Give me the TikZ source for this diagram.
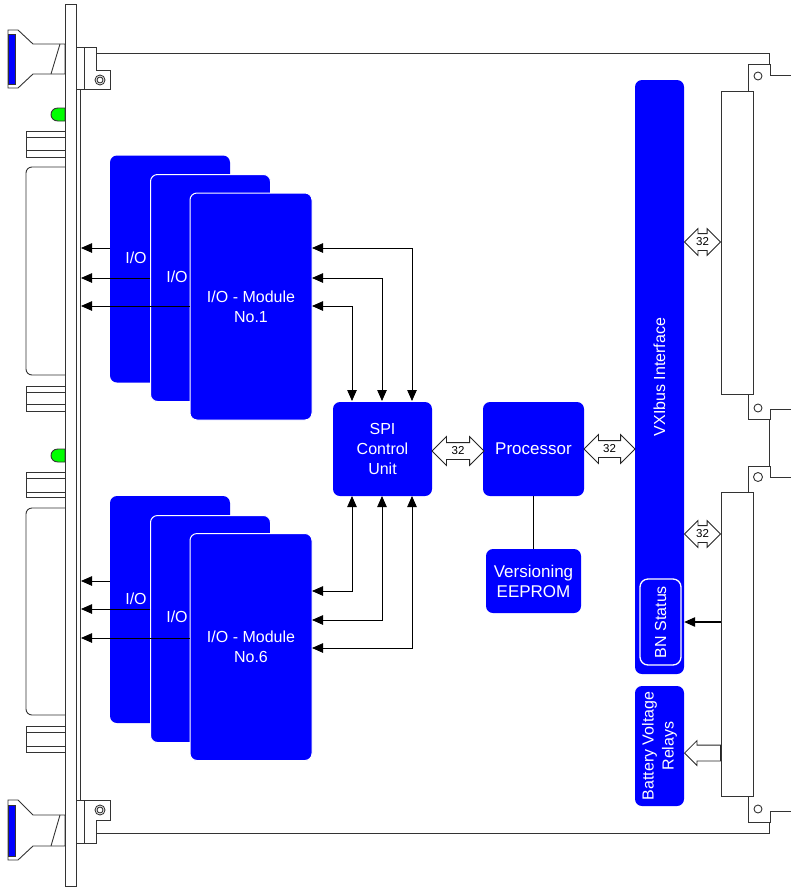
\documentclass[tikz,border=0pt]{standalone}
\usepackage{fontspec}
\setmainfont{Liberation Sans}
\usetikzlibrary{shapes.arrows, arrows.meta}

\begin{document}
\begin{tikzpicture}[
	x=1pt, y=-1pt,
	>={Triangle[length=11pt,width=9.5pt]},
	box/.style={
		rectangle,
		fill=blue,
		rounded corners=7pt,
		inner sep=0pt,
		align=center,
		text=white,
		font=\fontsize{16}{20}\selectfont
	},
	module/.style={box, draw=white, line width=1pt, minimum width=122pt, minimum height=227pt},
	boxtext/.style={text=white, inner sep=0pt, font=\fontsize{16}{20}\selectfont},
	conbox/.style={rectangle, draw=black!80, fill=white, line width=0.9pt, minimum width=32pt, inner sep=0pt},
	busarrow/.style={
		double arrow,
		draw=black!85,
		fill=white,
		line width=0.8pt,
		inner sep=0pt,
		text height=11.5pt,
		text depth=4.5pt,
		font=\fontsize{11.5}{12}\selectfont
	},
	wire/.style={line width=0.8pt},
	arrow/.style={->, line width=0.8pt},
	biarrow/.style={<->, line width=0.8pt},
	frame/.style={draw=black!80, line width=0.9pt},
	led/.style={frame, fill=green}
	]
	
	\useasboundingbox (0,0) rectangle (791,887);
	
	\draw [frame] (96,53) -- (769,53) -- (769,64);
	\draw [frame] (96,833) -- (769,833) -- (769,822);
	\draw [frame] (769,419) -- (769,466);
	\draw [frame] (80,89) -- (80,800);
	
	\draw [frame] (748,91) -- (748,64) -- (770,64) -- (770,75) -- (791,75);
	\draw [frame] (748,394) -- (748,419) -- (770,419) -- (770,409) -- (791,409);
	\draw [frame] (748,492) -- (748,466) -- (770,466) -- (770,477) -- (791,477);
	\draw [frame] (748,796) -- (748,822) -- (770,822) -- (770,811) -- (791,811);
	\draw [frame] (758,76) circle (4pt);
	\draw [frame] (758,408) circle (4pt);
	\draw [frame] (758,477) circle (4.5pt);
	\draw [frame] (758,809) circle (4pt);
	
	\draw [frame] (8,30) -- (18,30) -- (33,44) -- (65,44) -- (65,74) -- (33,74) -- (18,88) -- (8,88) -- cycle;
	\draw [frame, fill=blue] (8,34) rectangle (15,84);
	\draw [frame] (60,44) -- (51,74);
	\draw [frame] (8,800) -- (18,800) -- (33,815) -- (65,815) -- (65,846) -- (33,846) -- (18,860) -- (8,860) -- cycle;
	\draw [frame, fill=blue] (8,805) rectangle (15,856);
	\draw [frame] (60,815) -- (51,846);
	
	\draw [led] (65,108) -- (58,108) .. controls (48.7,108) and (48.7,121) .. (58,121) -- (65,121) -- cycle;
	\draw [led] (65,449) -- (58,449) .. controls (48.7,449) and (48.7,462) .. (58,462) -- (65,462) -- cycle;
	
	\draw [frame] (65,131) -- (26,131) -- (26,157) -- (65,157);
	\draw [frame] (26,137) -- (65,137);
	\draw [frame] (26,150) -- (65,150);
	\draw [frame, rounded corners=6pt] (65,167) -- (26,167) -- (26,375) -- (65,375);
	\draw [frame] (65,386) -- (26,386) -- (26,411) -- (65,411);
	\draw [frame] (26,392) -- (65,392);
	\draw [frame] (26,404) -- (65,404);
	\draw [frame] (65,472) -- (26,472) -- (26,497) -- (65,497);
	\draw [frame] (26,478) -- (65,478);
	\draw [frame] (26,492) -- (65,492);
	\draw [frame, rounded corners=6pt] (65,508) -- (26,508) -- (26,715) -- (65,715);
	\draw [frame] (65,726) -- (26,726) -- (26,752) -- (65,752);
	\draw [frame] (26,732) -- (65,732);
	\draw [frame] (26,746) -- (65,746);
	
	\draw [frame, fill=white] (65,4) rectangle (76,886);
	\draw [frame] (76,47) rectangle (84,89);
	\draw [frame] (84,47) -- (96,47) -- (96,70) -- (110,70) -- (110,89) -- (84,89);
	\draw [frame] (100,80) circle (5pt);
	\draw [frame] (100,80) circle (3pt);
	\draw [frame] (76,800) rectangle (84,843);
	\draw [frame] (84,800) -- (110,800) -- (110,820) -- (96,820) -- (96,843) -- (84,843);
	\draw [frame] (100,810) circle (5pt);
	\draw [frame] (100,810) circle (3pt);
	
	\node (modAback) [module, draw=none, minimum width=120pt] at (170,269) {};
	\node (modAmid) [module, minimum width=120pt] at (210.5,288) {};
	\node (modA) [module] at (251,306.5) {I/O - Module\\No.1};
	\node (modBback) [module, draw=none, minimum width=120pt] at (170,609.5) {};
	\node (modBmid) [module, minimum width=120pt] at (210.5,629) {};
	\node (modB) [module] at (251,647) {I/O - Module\\No.6};
	
	\node (ioAback) [boxtext] at (136,258) {I/O};
	\node (ioAmid) [boxtext] at (177,277) {I/O};
	\node (ioBback) [boxtext] at (136,599) {I/O};
	\node (ioBmid) [boxtext] at (177,617) {I/O};
	
	\node (spi) [box, minimum width=99pt, minimum height=94pt] at (382.5,449) {SPI\\Control\\Unit};
	\node (cpu) [box, minimum width=101pt, minimum height=94pt, font=\fontsize{17}{20}\selectfont] at (533.5,449) {Processor};
	\node (eeprom) [box, minimum width=95pt, minimum height=64pt, font=\fontsize{17}{20}\selectfont] at (533.5,581) {Versioning\\EEPROM};
	\node (vxi) [box, rotate=90, minimum width=594pt, minimum height=49pt] at (659.5,377) {VXIbus Interface};
	\node (bn) [box, rotate=90, draw=white, line width=1.3pt, rounded corners=8pt, minimum width=86pt, minimum height=41pt] at (660.5,622) {BN Status};
	\node (relays) [box, rotate=90, minimum width=120pt, minimum height=49pt] at (659.5,746) {Battery Voltage\\Relays};
	
	\node (conA) [conbox, minimum height=303pt] at (737,242.5) {};
	\node (conB) [conbox, minimum height=304pt] at (737,644) {};
	
	\draw [wire] (cpu.south) -- (eeprom.north);
	
	\node (busspi) [busarrow, minimum height=52pt, minimum width=28pt, double arrow head extend=6pt] at (458,451) {\makebox[0pt]{32}};
	\node (busvxi) [busarrow, minimum height=51pt, minimum width=28pt, double arrow head extend=6pt] at (609.5,449) {\makebox[0pt]{32}};
	\node (busconA) [busarrow, minimum height=36pt, minimum width=26pt, double arrow head extend=5pt] at (702.5,242) {\makebox[0pt]{32}};
	\node (busconB) [busarrow, minimum height=36pt, minimum width=26pt, double arrow head extend=5pt] at (702.5,534) {\makebox[0pt]{32}};
	\node (relayarrow) [single arrow, draw=black!85, fill=white, line width=0.8pt, shape border rotate=180, inner sep=0pt, text height=15pt, text depth=0pt, minimum height=36pt, minimum width=24pt, single arrow head extend=4.5pt] at (706.5,753) {};
	
	\coordinate (panelAa) at (81,248);
	\coordinate (panelAb) at (81,278);
	\coordinate (panelAc) at (81,306);
	\coordinate (panelBa) at (81,581);
	\coordinate (panelBb) at (81,609);
	\coordinate (panelBc) at (81,638);
	
	\draw [arrow] (modAback.west |- panelAa) -- (panelAa);
	\draw [arrow] (modAmid.west |- panelAb) -- (panelAb);
	\draw [arrow] (modA.west |- panelAc) -- (panelAc);
	\draw [arrow] (modBback.west |- panelBa) -- (panelBa);
	\draw [arrow] (modBmid.west |- panelBb) -- (panelBb);
	\draw [arrow] (modB.west |- panelBc) -- (panelBc);
	
	\coordinate (spitopa) at (352,401);
	\coordinate (spitopb) at (382,401);
	\coordinate (spitopc) at (412,401);
	\coordinate (spibota) at (352,496);
	\coordinate (spibotb) at (382,496);
	\coordinate (spibotc) at (412,496);
	\coordinate (modAa) at (312,248);
	\coordinate (modAb) at (312,278);
	\coordinate (modAc) at (312,306);
	\coordinate (modBa) at (312,591);
	\coordinate (modBb) at (312,620);
	\coordinate (modBc) at (312,648);
	
	\draw [biarrow] (modAa) -| (spitopc);
	\draw [biarrow] (modAb) -| (spitopb);
	\draw [biarrow] (modAc) -| (spitopa);
	\draw [biarrow] (modBa) -| (spibota);
	\draw [biarrow] (modBb) -| (spibotb);
	\draw [biarrow] (modBc) -| (spibotc);
	
	\coordinate (bnport) at (721,622);
	\draw [arrow, line width=1.1pt] (bnport) -- (vxi.south |- bnport);
	
\end{tikzpicture}
\end{document}
